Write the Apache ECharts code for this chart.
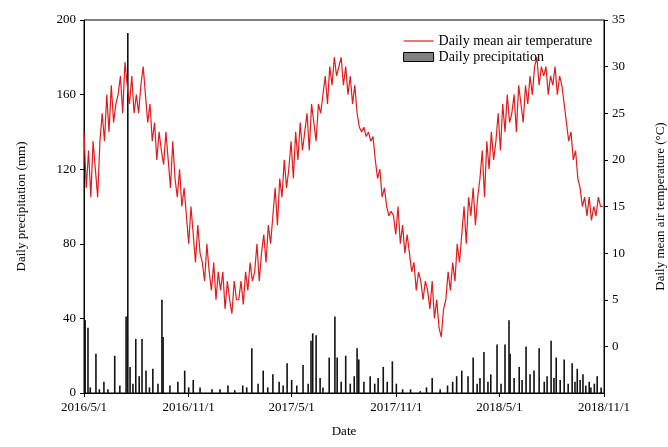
<!DOCTYPE html>
<html>
<head>
<meta charset="utf-8">
<script src="https://cdn.jsdelivr.net/npm/echarts@6/dist/echarts.min.js"></script>
<style>html,body{margin:0;padding:0;background:#fff}#c{width:668px;height:447px}</style>
</head>
<body>
<div id="c"></div>
<script>
// ---- data ----
const xTickDates = ['2016-05-01','2016-11-01','2017-05-01','2017-11-01','2018-05-01','2018-11-01'];
const precipTicks = [0, 40, 80, 120, 160, 200];
const tempTicks = [-5, 0, 5, 10, 15, 20, 25, 30, 35];

// daily mean air temperature (°C), sampled every 4 days from 2016-05-01
const tempStart = '2016-05-01';
const tempStepDays = 4;
const tempValues = [
  // 2016 May..Dec
  23,17,21,16,22,19,16,22,
  25,22,27,23,28,24,26,
  27,29,25,30.5,28,26,29,25,
  27,25,28,30,27,24,26,
  22,24,20,23,21,19.5,23,
  20,17,22,18,16,19,15,17,
  14,11,15,12,9,13,10,
  9,7,11,8,6,9,5,8,
  // 2017
  6,8,4,7,5,3.5,7,5,
  5,7,4.5,8,6,9,7,
  8,11,7,10,12,9,13,11,
  14,17,13,18,16,20,17,
  19,22,18,23,20,24,21,
  23,25,21,26,24,22,26,25,
  27,29,26,30,28,31,29,30,
  31,28,30,27,29,26,28,25,
  23.5,23,23.5,22.5,23,22,22.5,
  20,18,19,16,17,15,14,14.5,
  14,12,15,11,13,10,12,
  10,8,9,6,8,7,5,7,
  // 2018
  6,4,7,3,5,2,1,4,
  5,8,6,9,7,11,9,
  12,15,11,16,14,17,13,16,
  18,21,16,22,19,23,20,
  22,25,21,26,23,27,24,
  25,27,23,28,26,24,28,26,
  29,27,30,31,28,30,29,
  30,27,29,28,30,27,29,28,
  26,24,22,23,20,21,18,
  17,15,16,14,16,13.5,15,14,16,15,15
];

// daily precipitation (mm): [date, value]
const precipEvents = [
  ['2016-05-03',39],['2016-05-08',35],['2016-05-12',3],['2016-05-22',21],['2016-05-28',2],['2016-06-05',6],
  ['2016-06-12',2],['2016-06-24',20],['2016-07-03',4],['2016-07-14',41],['2016-07-17',193],['2016-07-21',14],
  ['2016-07-26',5],['2016-07-31',29],['2016-08-06',9],['2016-08-11',29],['2016-08-18',12],['2016-08-24',3],
  ['2016-08-30',13],['2016-09-08',5],['2016-09-15',50],['2016-09-17',30],['2016-09-29',4],['2016-10-13',6],
  ['2016-10-25',12],['2016-11-01',3],['2016-11-09',7],['2016-11-21',3],['2016-12-12',2],['2016-12-26',2],
  ['2017-01-09',4],['2017-01-21',1.5],['2017-02-04',4],['2017-02-11',3],['2017-02-20',24],['2017-03-03',5],
  ['2017-03-12',12],['2017-03-20',3],['2017-03-29',10],['2017-04-09',6],['2017-04-16',4],['2017-04-23',16],
  ['2017-05-01',7],['2017-05-10',4],['2017-05-21',15],['2017-05-30',5],['2017-06-04',28],['2017-06-07',32],
  ['2017-06-13',31],['2017-06-20',8],['2017-06-25',3],['2017-07-06',19],['2017-07-16',41],['2017-07-20',19],
  ['2017-07-27',6],['2017-08-04',20],['2017-08-12',5],['2017-08-19',9],['2017-08-24',24],['2017-08-27',18],
  ['2017-09-05',6],['2017-09-16',9],['2017-09-24',5],['2017-09-30',8],['2017-10-09',14],['2017-10-16',6],
  ['2017-10-25',17],['2017-11-01',5],['2017-11-12',2],['2017-11-26',2],['2017-12-13',1],['2017-12-24',3],
  ['2018-01-03',8],['2018-01-17',2],['2018-01-30',4],['2018-02-08',6],['2018-02-15',9],['2018-02-24',12],
  ['2018-03-07',9],['2018-03-16',19],['2018-03-23',5],['2018-03-28',8],['2018-04-04',22],['2018-04-11',6],
  ['2018-04-16',10],['2018-04-27',26],['2018-05-04',5],['2018-05-11',26],['2018-05-18',39],['2018-05-20',21],
  ['2018-05-27',8],['2018-06-05',14],['2018-06-10',7],['2018-06-17',25],['2018-06-24',10],['2018-07-01',12],
  ['2018-07-10',24],['2018-07-19',6],['2018-07-24',9],['2018-07-31',28],['2018-08-05',8],['2018-08-09',19],
  ['2018-08-16',7],['2018-08-23',18],['2018-08-30',5],['2018-09-06',16],['2018-09-11',6],['2018-09-15',13],
  ['2018-09-20',7],['2018-09-25',10],['2018-09-30',4],['2018-10-06',6],['2018-10-09',3],['2018-10-15',5],
  ['2018-10-20',9],['2018-10-27',3]
];

// ---- helpers: x axis is "days since first tick date" ----
const DAY = 86400000;
function utc(s){ const p = s.split('-').map(Number); return Date.UTC(p[0], p[1]-1, p[2]); }
const origin = utc(xTickDates[0]);
function dayOf(s){ return Math.round((utc(s) - origin) / DAY); }
function fmt(v){ const d = new Date(origin + Math.round(v) * DAY); return d.getUTCFullYear() + '/' + (d.getUTCMonth()+1) + '/' + d.getUTCDate(); }

const tStart = dayOf(tempStart);
const tempData = tempValues.map((v, i) => [tStart + i * tempStepDays, v]);
const precipData = precipEvents.map(e => [dayOf(e[0]), e[1]]);
const xTicks = xTickDates.map(dayOf);

const FONT = 'Liberation Serif';
const chart = echarts.init(document.getElementById('c'));
chart.setOption({
  animation: false,
  textStyle: { fontFamily: FONT, color: '#000' },
  grid: { left: 84, right: 64, top: 20, bottom: 54, show: true, borderColor: '#000', borderWidth: 1, outerBoundsMode: 'none', containLabel: false },
  legend: {
    left: 398, top: 29, orient: 'vertical', itemGap: 2, itemWidth: 30, itemHeight: 9,
    textStyle: { fontFamily: FONT, fontSize: 14, color: '#000' },
    data: [
      { name: 'Daily mean air temperature', itemStyle: { opacity: 0 }, lineStyle: { color: '#e31a1c', width: 1.2 } },
      { name: 'Daily precipitation', icon: 'rect', itemStyle: { color: '#808080', borderColor: '#000', borderWidth: 1 } }
    ]
  },
  xAxis: {
    type: 'value', min: xTicks[0], max: xTicks[xTicks.length - 1],
    name: 'Date', nameLocation: 'middle', nameGap: 32,
    nameTextStyle: { fontFamily: FONT, fontSize: 13, color: '#000' },
    axisLine: { lineStyle: { color: '#000' } },
    axisTick: { customValues: xTicks, length: 4, lineStyle: { color: '#000' } },
    axisLabel: { customValues: xTicks, formatter: fmt, fontFamily: FONT, fontSize: 13, color: '#000', margin: 8 },
    splitLine: { show: false }
  },
  yAxis: [
    {
      type: 'value', min: precipTicks[0], max: precipTicks[precipTicks.length - 1], interval: 40,
      name: 'Daily precipitation (mm)', nameLocation: 'middle', nameGap: 56, nameRotate: 90,
      nameTextStyle: { fontFamily: FONT, fontSize: 13, color: '#000' },
      axisLine: { show: true, lineStyle: { color: '#000' } },
      axisTick: { show: true, length: 4, lineStyle: { color: '#000' } },
      axisLabel: { fontFamily: FONT, fontSize: 13, color: '#000', margin: 8 },
      splitLine: { show: false }
    },
    {
      type: 'value', min: tempTicks[0], max: tempTicks[tempTicks.length - 1], interval: 5,
      position: 'right',
      name: 'Daily mean air temperature (°C)', nameLocation: 'middle', nameGap: 50, nameRotate: 90,
      nameTextStyle: { fontFamily: FONT, fontSize: 13, color: '#000' },
      axisLine: { show: true, lineStyle: { color: '#000' } },
      axisTick: { show: true, length: 4, lineStyle: { color: '#000' } },
      axisLabel: { fontFamily: FONT, fontSize: 13, color: '#000', margin: 8, showMinLabel: false },
      splitLine: { show: false }
    }
  ],
  series: [
    {
      name: 'Daily precipitation', type: 'bar', yAxisIndex: 0, barWidth: 1.6,
      itemStyle: { color: '#111' }, data: precipData
    },
    {
      name: 'Daily mean air temperature', type: 'line', yAxisIndex: 1, symbol: 'none',
      lineStyle: { color: '#e31a1c', width: 1.2 }, itemStyle: { color: '#e31a1c' }, data: tempData, z: 3
    }
  ]
});
</script>
</body>
</html>
